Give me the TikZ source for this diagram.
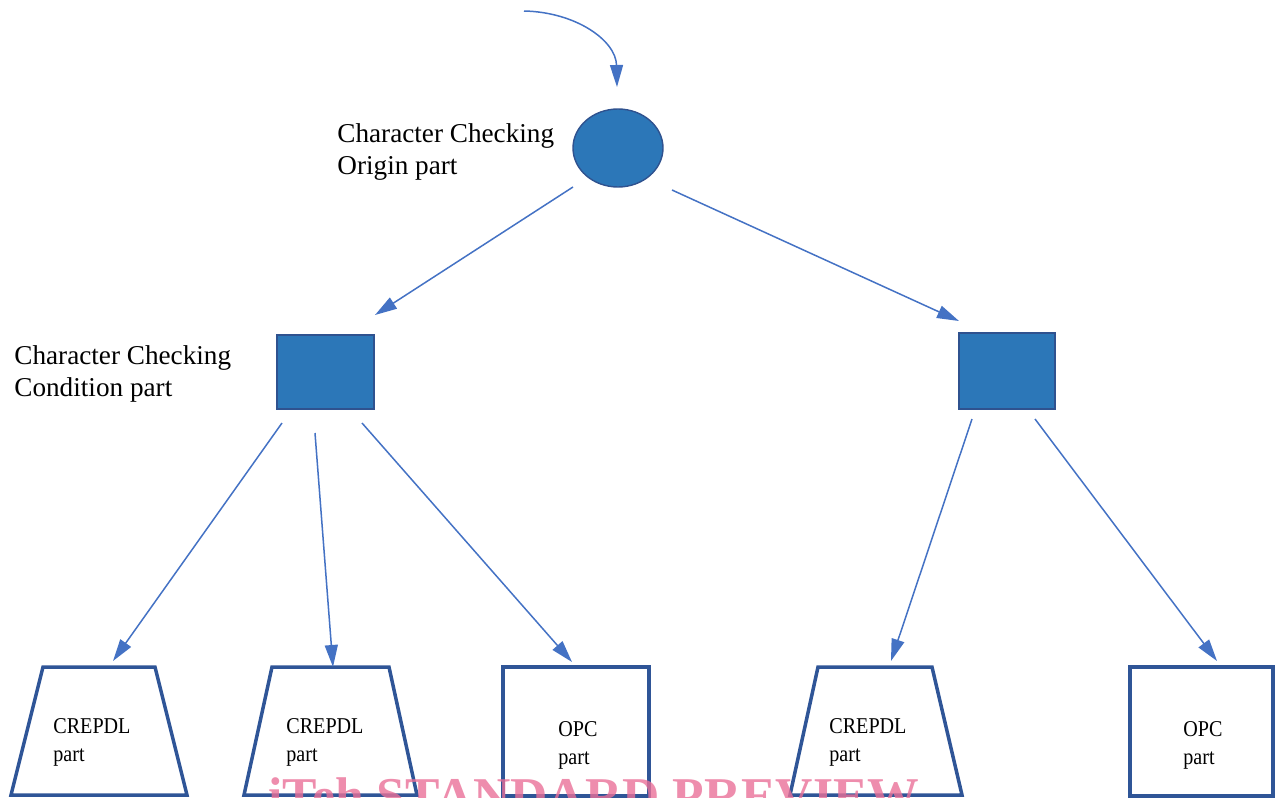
\documentclass[tikz,border=0pt]{standalone}
\usepackage{fontspec}
\setmainfont{Liberation Serif}
\newfontfamily\labfont{Liberation Serif}
\newfontfamily\boxfont[FakeStretch=0.89]{Liberation Serif}
\usetikzlibrary{arrows.meta,shapes.geometric}
\definecolor{fillblue}{RGB}{44,119,184}
\definecolor{edgeblue}{RGB}{47,82,143}
\definecolor{arrowblue}{RGB}{68,114,196}
\definecolor{boxblue}{RGB}{47,85,151}
\definecolor{wmpink}{RGB}{234,112,152}
\tikzset{
  conn/.style={draw=arrowblue, line width=0.75pt, -{Triangle[length=11pt,width=6.5pt]}},
  filledshape/.style={fill=fillblue, draw=edgeblue, line width=0.7pt},
  outlinebox/.style={draw=boxblue, line width=1.75pt, inner sep=0pt},
  trappath/.style={draw=boxblue, line width=1.75pt, line join=miter},
  biglabel/.style={font=\labfont\fontsize{13.6pt}{16pt}\selectfont, align=left, inner sep=0pt, anchor=base west},
  smalllabel/.style={font=\boxfont\fontsize{11.3pt}{14pt}\selectfont, align=left, inner sep=0pt, anchor=base west},
  watermark/.style={font=\labfont\bfseries\fontsize{25.8pt}{26pt}\selectfont, text=wmpink, text opacity=0.8, inner sep=0pt, anchor=base west}
}
\begin{document}
\begin{tikzpicture}[x=0.5pt,y=-0.5pt]
\useasboundingbox (0,0) rectangle (1282,798);
\clip (0,0) rectangle (1282,798);
% shapes
\node[filledshape, ellipse, minimum width=45pt, minimum height=39pt] (origin) at (618,148) {};
\node[filledshape, rectangle, minimum width=48.5pt, minimum height=37pt] (condL) at (325.5,372) {};
\node[filledshape, rectangle, minimum width=48pt, minimum height=38pt] (condR) at (1007,371) {};
\draw[trappath] (43,667) -- (155,667) -- (187,795) -- (11,795) -- cycle;
\draw[trappath] (272,667) -- (389,667) -- (417,795) -- (244,795) -- cycle;
\node[outlinebox, rectangle, minimum width=73pt, minimum height=64.5pt] (o1) at (576,731.5) {};
\draw[trappath] (818,667) -- (932,667) -- (962,795) -- (790,795) -- cycle;
\node[outlinebox, rectangle, minimum width=71.5pt, minimum height=64.5pt] (o2) at (1201.5,731.5) {};
% labels (anchored at the baseline of the last line)
\node[biglabel] (lorigin) at (337,174) {Character Checking\\Origin part};
\node[biglabel] (lcond) at (14,396) {Character Checking\\Condition part};
\node[smalllabel] (lt1) at (53,761) {CREPDL\\part};
\node[smalllabel] (lt2) at (286,761) {CREPDL\\part};
\node[smalllabel] (lo1) at (558,764) {OPC\\part};
\node[smalllabel] (lt3) at (829,761) {CREPDL\\part};
\node[smalllabel] (lo2) at (1183,764) {OPC\\part};
% connector end points
\coordinate (in0) at (524,11);
\coordinate (inE) at (617,87);
\coordinate (eL) at (573,187);
\coordinate (eR) at (672,190);
\coordinate (cLin) at (375,315);
\coordinate (cRin) at (959,321);
\coordinate (cLa) at (282,423);
\coordinate (cLb) at (315,433);
\coordinate (cLc) at (362,423);
\coordinate (cRa) at (972,419);
\coordinate (cRb) at (1035,419);
\coordinate (t1in) at (113,661);
\coordinate (t2in) at (333,667);
\coordinate (o1in) at (572,662);
\coordinate (t3in) at (891,661);
\coordinate (o2in) at (1217,661);
% connectors
\draw[conn] (in0) .. controls (575,12) and (616,40) .. (inE);
\draw[conn] (eL) -- (cLin);
\draw[conn] (eR) -- (cRin);
\draw[conn] (cLa) -- (t1in);
\draw[conn] (cLb) -- (t2in);
\draw[conn] (cLc) -- (o1in);
\draw[conn] (cRa) -- (t3in);
\draw[conn] (cRb) -- (o2in);
% watermark
\node[watermark] (wm) at (268,813) {iTeh STANDARD PREVIEW};
\end{tikzpicture}
\end{document}
